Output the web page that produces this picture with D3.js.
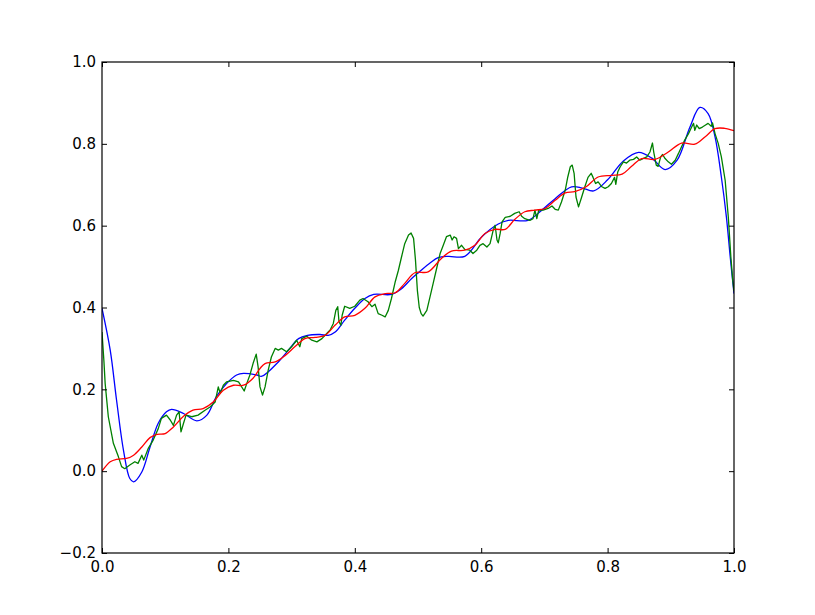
<!DOCTYPE html>
<html>
<head>
<meta charset="utf-8">
<script src="https://cdn.jsdelivr.net/npm/d3@7"></script>
<style>
  body { margin: 0; background: #fff; }
  svg { display: block; }
  .tick text { font-family: "DejaVu Sans", sans-serif; font-size: 15px; fill: #000; }
</style>
</head>
<body>
<svg id="chart" width="815" height="615"></svg>
<script>
// values
const xTicks = [0.0, 0.2, 0.4, 0.6, 0.8, 1.0];
const yTicks = [-0.2, 0.0, 0.2, 0.4, 0.6, 0.8, 1.0];

const blueX = [0, 0.013, 0.023, 0.034, 0.044, 0.050, 0.063, 0.076, 0.089, 0.102, 0.110, 0.129, 0.150, 0.166, 0.181, 0.197, 0.213, 0.224, 0.245, 0.253, 0.279, 0.295, 0.311, 0.325, 0.345, 0.358, 0.369, 0.384, 0.400, 0.416, 0.430, 0.458, 0.474, 0.490, 0.502, 0.520, 0.532, 0.548, 0.574, 0.601, 0.627, 0.643, 0.674, 0.696, 0.717, 0.743, 0.760, 0.778, 0.800, 0.825, 0.849, 0.870, 0.891, 0.910, 0.930, 0.946, 0.959, 0.970, 0.980, 0.988, 0.994, 1.0];
const blueY = [0.398, 0.296, 0.174, 0.051, -0.018, -0.026, -0.002, 0.059, 0.117, 0.145, 0.151, 0.141, 0.123, 0.137, 0.182, 0.214, 0.235, 0.239, 0.235, 0.232, 0.267, 0.296, 0.324, 0.332, 0.334, 0.332, 0.340, 0.369, 0.398, 0.422, 0.432, 0.432, 0.446, 0.471, 0.487, 0.510, 0.522, 0.525, 0.525, 0.573, 0.604, 0.613, 0.613, 0.638, 0.666, 0.695, 0.692, 0.685, 0.712, 0.758, 0.779, 0.765, 0.737, 0.760, 0.840, 0.889, 0.874, 0.817, 0.719, 0.621, 0.524, 0.434];

const greenX = [0.000, 0.003, 0.005, 0.010, 0.018, 0.026, 0.031, 0.036, 0.044, 0.052, 0.057, 0.063, 0.066, 0.073, 0.081, 0.089, 0.094, 0.102, 0.108, 0.113, 0.118, 0.122, 0.125, 0.129, 0.133, 0.142, 0.152, 0.163, 0.171, 0.179, 0.184, 0.187, 0.192, 0.197, 0.208, 0.216, 0.221, 0.225, 0.229, 0.234, 0.239, 0.244, 0.247, 0.250, 0.254, 0.258, 0.263, 0.268, 0.274, 0.279, 0.284, 0.292, 0.300, 0.308, 0.313, 0.316, 0.324, 0.332, 0.340, 0.348, 0.356, 0.361, 0.366, 0.370, 0.373, 0.375, 0.378, 0.380, 0.384, 0.392, 0.400, 0.408, 0.413, 0.421, 0.427, 0.432, 0.437, 0.443, 0.448, 0.453, 0.458, 0.464, 0.469, 0.474, 0.479, 0.485, 0.489, 0.493, 0.496, 0.499, 0.502, 0.505, 0.508, 0.514, 0.519, 0.524, 0.530, 0.535, 0.540, 0.545, 0.551, 0.554, 0.557, 0.561, 0.564, 0.569, 0.574, 0.582, 0.587, 0.593, 0.598, 0.603, 0.609, 0.614, 0.619, 0.622, 0.625, 0.627, 0.630, 0.633, 0.638, 0.646, 0.653, 0.660, 0.664, 0.669, 0.677, 0.682, 0.685, 0.688, 0.691, 0.698, 0.706, 0.712, 0.717, 0.722, 0.727, 0.733, 0.737, 0.741, 0.744, 0.747, 0.750, 0.754, 0.759, 0.764, 0.769, 0.774, 0.777, 0.781, 0.785, 0.791, 0.796, 0.801, 0.806, 0.811, 0.813, 0.816, 0.820, 0.825, 0.830, 0.835, 0.841, 0.846, 0.851, 0.856, 0.862, 0.867, 0.871, 0.873, 0.877, 0.880, 0.884, 0.887, 0.891, 0.896, 0.901, 0.907, 0.912, 0.917, 0.922, 0.928, 0.933, 0.936, 0.938, 0.941, 0.945, 0.950, 0.955, 0.959, 0.964, 0.966, 0.970, 0.975, 0.980, 0.986, 0.991, 0.995, 0.998, 1.000];
const greenY = [0.340, 0.270, 0.214, 0.133, 0.068, 0.035, 0.011, 0.006, 0.015, 0.023, 0.019, 0.039, 0.027, 0.055, 0.076, 0.104, 0.129, 0.137, 0.125, 0.112, 0.137, 0.145, 0.096, 0.117, 0.137, 0.133, 0.137, 0.149, 0.157, 0.169, 0.206, 0.190, 0.210, 0.218, 0.222, 0.218, 0.206, 0.196, 0.214, 0.235, 0.263, 0.286, 0.255, 0.206, 0.186, 0.206, 0.247, 0.279, 0.300, 0.296, 0.300, 0.292, 0.304, 0.320, 0.304, 0.324, 0.330, 0.320, 0.316, 0.324, 0.337, 0.345, 0.361, 0.393, 0.402, 0.365, 0.357, 0.381, 0.403, 0.398, 0.403, 0.418, 0.422, 0.414, 0.402, 0.408, 0.385, 0.381, 0.377, 0.393, 0.422, 0.463, 0.491, 0.524, 0.556, 0.577, 0.582, 0.569, 0.516, 0.442, 0.400, 0.385, 0.379, 0.393, 0.426, 0.459, 0.499, 0.532, 0.552, 0.573, 0.577, 0.565, 0.573, 0.569, 0.544, 0.552, 0.542, 0.540, 0.532, 0.540, 0.552, 0.556, 0.548, 0.556, 0.589, 0.601, 0.565, 0.558, 0.581, 0.609, 0.620, 0.623, 0.630, 0.634, 0.623, 0.617, 0.613, 0.617, 0.638, 0.617, 0.638, 0.638, 0.642, 0.648, 0.640, 0.638, 0.658, 0.687, 0.719, 0.744, 0.748, 0.728, 0.670, 0.646, 0.670, 0.695, 0.718, 0.728, 0.718, 0.703, 0.707, 0.695, 0.691, 0.695, 0.703, 0.718, 0.701, 0.731, 0.744, 0.756, 0.753, 0.760, 0.762, 0.768, 0.760, 0.764, 0.768, 0.780, 0.802, 0.780, 0.748, 0.745, 0.768, 0.774, 0.764, 0.756, 0.750, 0.760, 0.776, 0.793, 0.809, 0.825, 0.841, 0.850, 0.833, 0.846, 0.837, 0.841, 0.846, 0.850, 0.843, 0.851, 0.825, 0.801, 0.768, 0.711, 0.621, 0.524, 0.467, 0.440];

const redX = [0, 0.013, 0.023, 0.039, 0.050, 0.063, 0.076, 0.087, 0.100, 0.113, 0.129, 0.144, 0.160, 0.176, 0.192, 0.208, 0.224, 0.239, 0.250, 0.258, 0.274, 0.290, 0.305, 0.321, 0.337, 0.353, 0.369, 0.384, 0.400, 0.416, 0.432, 0.448, 0.464, 0.479, 0.495, 0.516, 0.537, 0.553, 0.574, 0.590, 0.606, 0.622, 0.638, 0.653, 0.669, 0.685, 0.701, 0.717, 0.733, 0.748, 0.766, 0.785, 0.806, 0.823, 0.838, 0.854, 0.875, 0.896, 0.917, 0.938, 0.955, 0.970, 0.985, 1.0];
const redY = [0.000, 0.023, 0.029, 0.031, 0.039, 0.059, 0.082, 0.090, 0.092, 0.108, 0.134, 0.149, 0.153, 0.169, 0.198, 0.210, 0.210, 0.227, 0.251, 0.263, 0.267, 0.283, 0.304, 0.324, 0.327, 0.332, 0.357, 0.377, 0.381, 0.398, 0.426, 0.434, 0.436, 0.459, 0.485, 0.487, 0.520, 0.538, 0.540, 0.552, 0.581, 0.591, 0.591, 0.615, 0.634, 0.638, 0.642, 0.662, 0.680, 0.683, 0.695, 0.719, 0.723, 0.726, 0.745, 0.764, 0.762, 0.780, 0.802, 0.799, 0.818, 0.837, 0.838, 0.832];

const series = [
  { xs: blueX, ys: blueY, color: "#0000ff", smooth: true },
  { xs: greenX, ys: greenY, color: "#008000", smooth: false },
  { xs: redX, ys: redY, color: "#ff0000", smooth: true }
];

const margin = { left: 102, right: 81, top: 62, bottom: 62 };
const width = 815 - margin.left - margin.right;
const height = 615 - margin.top - margin.bottom;

const svg = d3.select("#chart");
const g = svg.append("g").attr("transform", `translate(${margin.left},${margin.top})`);

const x = d3.scaleLinear().domain([0, 1]).range([0, width]);
const y = d3.scaleLinear().domain([-0.2, 1.0]).range([height, 0]);

g.append("defs").append("clipPath").attr("id", "clip")
  .append("rect").attr("width", width).attr("height", height);

// lines, plotted in the b, g, r order
series.forEach(s => {
  const pts = s.xs.map((v, i) => [v, s.ys[i]]);
  const line = d3.line()
    .x(d => x(d[0]))
    .y(d => y(d[1]))
    .curve(s.smooth ? d3.curveCatmullRom.alpha(0.5) : d3.curveLinear);
  g.append("path")
    .datum(pts)
    .attr("clip-path", "url(#clip)")
    .attr("fill", "none")
    .attr("stroke", s.color)
    .attr("stroke-width", 1.3)
    .attr("stroke-linejoin", "round")
    .attr("d", line);
});

// axes: ticks point inward, labels on bottom/left only
const fmt = d3.format(".1f");
const tickLen = 5;

const bottom = g.append("g").attr("transform", `translate(0,${height})`)
  .call(d3.axisBottom(x).tickValues(xTicks).tickFormat(fmt).tickSizeInner(-tickLen).tickSizeOuter(0).tickPadding(10));
const left = g.append("g")
  .call(d3.axisLeft(y).tickValues(yTicks).tickFormat(fmt).tickSizeInner(-tickLen).tickSizeOuter(0).tickPadding(10));
g.append("g")
  .call(d3.axisTop(x).tickValues(xTicks).tickFormat("").tickSizeInner(-tickLen).tickSizeOuter(0));
g.append("g").attr("transform", `translate(${width},0)`)
  .call(d3.axisRight(y).tickValues(yTicks).tickFormat("").tickSizeInner(-tickLen).tickSizeOuter(0));

svg.selectAll(".domain").remove();
svg.selectAll(".tick line").attr("stroke", "#000").attr("stroke-width", 1);
left.selectAll("text").attr("x", -6);
bottom.selectAll("text").attr("y", 8);

// frame
g.append("rect")
  .attr("x", 0).attr("y", 0)
  .attr("width", width).attr("height", height)
  .attr("fill", "none")
  .attr("stroke", "#000")
  .attr("stroke-width", 1.2);
</script>
</body>
</html>
